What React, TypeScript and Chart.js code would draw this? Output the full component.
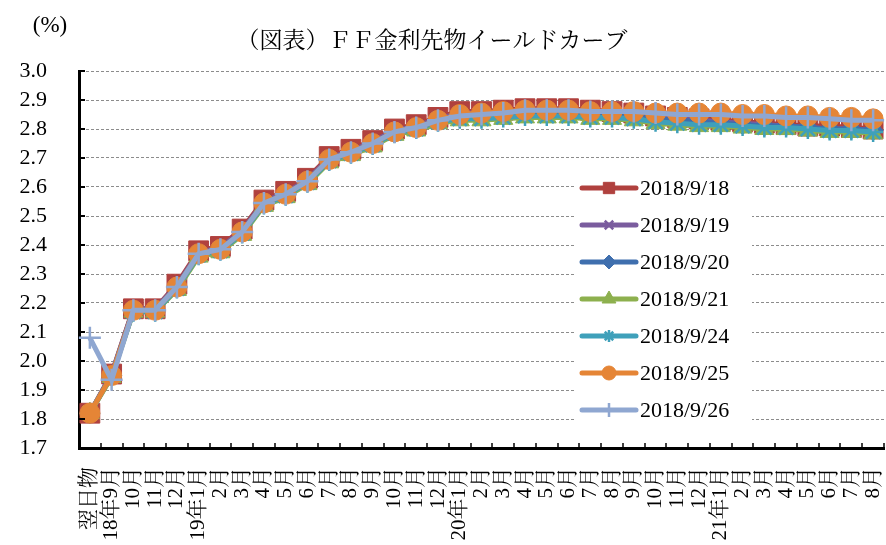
import React, { useEffect, useRef } from 'react';
import { Chart, registerables } from 'chart.js';
import { drawPoint } from 'chart.js/helpers';

Chart.register(...registerables);

const categories = [
  '翌日物', '18年9月', '10月', '11月', '12月',
  '19年1月', '2月', '3月', '4月', '5月', '6月', '7月', '8月', '9月', '10月', '11月', '12月',
  '20年1月', '2月', '3月', '4月', '5月', '6月', '7月', '8月', '9月', '10月', '11月', '12月',
  '21年1月', '2月', '3月', '4月', '5月', '6月', '7月', '8月',
];

const s0918 = [1.82, 1.955, 2.18, 2.18, 2.265, 2.38, 2.395, 2.455, 2.555, 2.585, 2.63, 2.705, 2.73, 2.76, 2.8, 2.815, 2.84, 2.86, 2.86, 2.865, 2.87, 2.87, 2.87, 2.865, 2.86, 2.855, 2.845, 2.84, 2.835, 2.83, 2.825, 2.82, 2.815, 2.81, 2.81, 2.805, 2.8];
const s0919 = [1.82, 1.955, 2.18, 2.18, 2.26, 2.375, 2.39, 2.45, 2.55, 2.58, 2.625, 2.7, 2.725, 2.755, 2.795, 2.81, 2.835, 2.855, 2.855, 2.86, 2.865, 2.865, 2.865, 2.86, 2.855, 2.85, 2.84, 2.835, 2.83, 2.825, 2.82, 2.815, 2.81, 2.805, 2.8, 2.8, 2.795];
const s0920 = [1.82, 1.95, 2.175, 2.175, 2.255, 2.37, 2.385, 2.445, 2.545, 2.575, 2.62, 2.695, 2.72, 2.75, 2.79, 2.805, 2.83, 2.845, 2.845, 2.85, 2.855, 2.855, 2.855, 2.85, 2.845, 2.845, 2.835, 2.83, 2.825, 2.82, 2.815, 2.81, 2.81, 2.805, 2.8, 2.8, 2.795];
const s0921 = [1.82, 1.945, 2.17, 2.17, 2.245, 2.36, 2.375, 2.435, 2.535, 2.565, 2.61, 2.685, 2.71, 2.74, 2.78, 2.795, 2.82, 2.83, 2.83, 2.835, 2.84, 2.84, 2.84, 2.835, 2.835, 2.83, 2.82, 2.815, 2.81, 2.81, 2.805, 2.8, 2.8, 2.795, 2.79, 2.79, 2.785];
const s0924 = [1.82, 1.95, 2.17, 2.17, 2.25, 2.365, 2.38, 2.44, 2.54, 2.57, 2.615, 2.69, 2.715, 2.745, 2.785, 2.8, 2.825, 2.835, 2.835, 2.84, 2.845, 2.845, 2.845, 2.84, 2.84, 2.835, 2.825, 2.82, 2.815, 2.815, 2.81, 2.805, 2.805, 2.8, 2.795, 2.795, 2.79];
const s0925 = [1.82, 1.95, 2.175, 2.175, 2.255, 2.37, 2.385, 2.445, 2.545, 2.575, 2.62, 2.695, 2.72, 2.75, 2.79, 2.805, 2.83, 2.85, 2.855, 2.86, 2.865, 2.865, 2.865, 2.86, 2.86, 2.86, 2.855, 2.855, 2.855, 2.855, 2.85, 2.85, 2.845, 2.845, 2.84, 2.84, 2.835];
const s0926 = [2.08, 1.935, 2.175, 2.175, 2.255, 2.37, 2.385, 2.445, 2.545, 2.575, 2.62, 2.695, 2.72, 2.75, 2.79, 2.805, 2.83, 2.845, 2.85, 2.855, 2.865, 2.865, 2.865, 2.86, 2.86, 2.86, 2.855, 2.85, 2.85, 2.85, 2.845, 2.845, 2.84, 2.84, 2.835, 2.83, 2.83];

const seriesNames = ['2018/9/18', '2018/9/19', '2018/9/20', '2018/9/21', '2018/9/24', '2018/9/25', '2018/9/26'];
const seriesValues = [s0918, s0919, s0920, s0921, s0924, s0925, s0926];
const seriesColors = ['#B0413E', '#7A5C9E', '#3F6FAE', '#8DB04E', '#3FA0BA', '#E58536', '#8FA7D1'];
const pointStyles = ['rect', 'crossRot', 'rectRot', 'triangle', 'star', 'circle', 'cross'];
const pointRadii = [14, 9, 10, 11, 10, 10, 11];
const pointBorders = [1, 2.5, 1, 1, 2.5, 1, 2.5];
const legendRadii = [8, 6, 7, 8, 6, 7, 7];

const yMin = 1.7;
const yMax = 3.0;
const yStep = 0.1;

const titleText = '（図表）ＦＦ金利先物イールドカーブ';
const unitText = '(%)';

const FONT = "'Liberation Serif', 'Noto Serif CJK JP', 'Noto Sans CJK JP', serif";

const overlayPlugin = {
  id: 'overlay',
  afterDraw(chart: any) {
    const { ctx, chartArea, scales } = chart;
    ctx.save();
    ctx.strokeStyle = '#000';
    ctx.lineWidth = 2;
    for (let v = 0; v <= Math.round((yMax - yMin) / yStep); v++) {
      const y = Math.round(scales.y.getPixelForValue(yMin + v * yStep));
      ctx.beginPath();
      ctx.moveTo(chartArea.left, y);
      ctx.lineTo(chartArea.left + 6, y);
      ctx.stroke();
    }
    const n = categories.length;
    const w = (chartArea.right - chartArea.left) / n;
    ctx.lineWidth = 1.5;
    for (let i = 1; i <= n; i++) {
      const x = Math.round(chartArea.left + i * w);
      ctx.beginPath();
      ctx.moveTo(x, chartArea.bottom);
      ctx.lineTo(x, chartArea.bottom - 5);
      ctx.stroke();
    }
    ctx.fillStyle = '#000';
    ctx.font = `23px ${FONT}`;
    ctx.textAlign = 'center';
    ctx.textBaseline = 'middle';
    ctx.fillText(titleText, 432, 42);
    ctx.font = `23px ${FONT}`;
    ctx.fillText(unitText, 50, 26);

    ctx.fillStyle = '#fff';
    ctx.fillRect(574, 168, 178, 262);
    seriesNames.forEach((name, i) => {
      const y = 188 + i * 37;
      const c = seriesColors[i];
      ctx.strokeStyle = c;
      ctx.lineWidth = 5;
      ctx.lineCap = 'round';
      ctx.beginPath();
      ctx.moveTo(582, y);
      ctx.lineTo(636, y);
      ctx.stroke();
      ctx.fillStyle = c;
      ctx.strokeStyle = c;
      ctx.lineWidth = pointBorders[i];
      ctx.lineCap = 'butt';
      drawPoint(ctx, { pointStyle: pointStyles[i], radius: legendRadii[i], rotation: 0, borderWidth: pointBorders[i] } as any, 609, y);
      ctx.fillStyle = '#000';
      ctx.font = `22px ${FONT}`;
      ctx.textAlign = 'left';
      ctx.textBaseline = 'middle';
      ctx.fillText(name, 640, y + 1);
    });
    ctx.restore();
  },
};

export default function App() {
  const ref = useRef<HTMLCanvasElement>(null);

  useEffect(() => {
    document.body.style.margin = '0';
    const canvas = ref.current;
    if (!canvas) return;
    const datasets = seriesValues.map((vals, i) => ({
      label: seriesNames[i],
      data: vals,
      borderColor: seriesColors[i],
      backgroundColor: seriesColors[i],
      borderWidth: 5,
      pointStyle: pointStyles[i],
      pointRadius: pointRadii[i],
      pointBorderWidth: pointBorders[i],
      pointBorderColor: seriesColors[i],
      pointBackgroundColor: seriesColors[i],
      tension: 0,
      order: seriesNames.length - 1 - i,
    }));
    const chart = new Chart(canvas, {
      type: 'line',
      data: { labels: categories, datasets },
      options: {
        responsive: false,
        animation: false,
        devicePixelRatio: 1,
        layout: { autoPadding: false, padding: { top: 71, right: 2, left: 0, bottom: 0 } },
        plugins: {
          legend: { display: false },
          title: { display: false },
          tooltip: { enabled: false },
        },
        scales: {
          x: {
            type: 'category',
            offset: true,
            grid: { display: false, drawTicks: false },
            border: { display: true, color: '#000', width: 3 },
            ticks: {
              autoSkip: false,
              maxRotation: 90,
              minRotation: 90,
              padding: 19,
              color: '#000',
              font: { family: FONT, size: 21 },
            },
            afterFit: (scale: any) => {
              scale.height = 97;
              scale.paddingLeft = 0;
              scale.paddingRight = 0;
            },
          },
          y: {
            min: yMin,
            max: yMax,
            grid: { color: '#8c8c8c', lineWidth: 1, drawTicks: false },
            border: { display: true, color: '#000', width: 3, dash: [3, 2] },
            ticks: {
              stepSize: yStep,
              autoSkip: false,
              padding: 32,
              color: '#000',
              font: { family: FONT, size: 22 },
              callback: (v: any) => Number(v).toFixed(1),
            },
            afterFit: (scale: any) => {
              scale.width = 79;
              scale.paddingTop = 0;
              scale.paddingBottom = 0;
            },
          },
        },
      },
      plugins: [overlayPlugin],
    });
    return () => chart.destroy();
  }, []);

  return (
    <div style={{ width: 886, height: 545 }}>
      <canvas ref={ref} width={886} height={545} style={{ display: 'block' }} />
    </div>
  );
}
